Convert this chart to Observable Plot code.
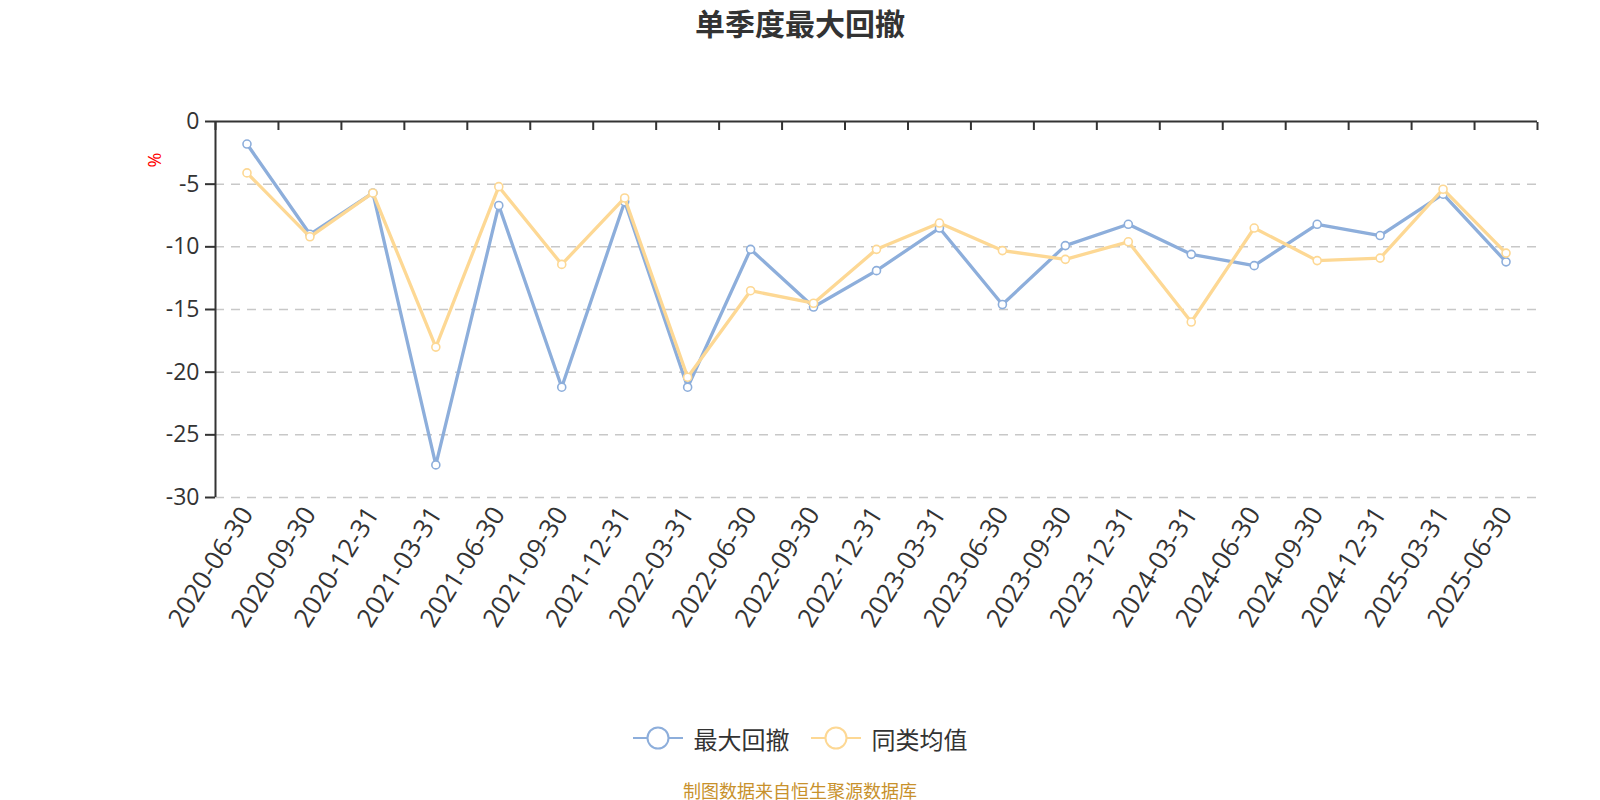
<!DOCTYPE html>
<html>
<head>
<meta charset="utf-8">
<script src="https://cdn.jsdelivr.net/npm/d3@7"></script>
<script src="https://cdn.jsdelivr.net/npm/@observablehq/plot@0.6"></script>
<style>
  body { margin: 0; width: 1600px; height: 800px; background: #fff; position: relative; overflow: hidden;
         font-family: "Open Sans", "Noto Sans CJK SC", sans-serif; }
  #title { height: 44px; line-height: 44px; text-align: center; font-size: 30px; font-weight: bold; color: #333;
           font-family: "Noto Sans CJK SC", sans-serif; margin-bottom: 2px; }
  #chart { height: 650px; }
  #legend { position: absolute; left: 0; top: 724px; width: 1600px; height: 28px; display: flex;
            justify-content: center; align-items: center; gap: 21px; font-family: "Noto Sans CJK SC", sans-serif; }
  .item { display: flex; align-items: center; font-size: 24px; color: #333; }
  .item svg { margin-right: 11px; }
  #footer { position: absolute; left: 0; top: 779px; width: 1600px; height: 22px; line-height: 22px; text-align: center;
            font-size: 18px; color: #c8912c; font-family: "Noto Sans CJK SC", sans-serif; }
</style>
</head>
<body>
<div id="title">单季度最大回撤</div>
<div id="chart"></div>
<div id="legend"></div>
<div id="footer">制图数据来自恒生聚源数据库</div>
<script>
const dates = ["2020-06-30","2020-09-30","2020-12-31","2021-03-31","2021-06-30","2021-09-30","2021-12-31",
  "2022-03-31","2022-06-30","2022-09-30","2022-12-31","2023-03-31","2023-06-30","2023-09-30","2023-12-31",
  "2024-03-31","2024-06-30","2024-09-30","2024-12-31","2025-03-31","2025-06-30"];
const maxDrawdown = [-1.8,-9.0,-5.7,-27.4,-6.7,-21.2,-6.4,-21.2,-10.2,-14.8,-11.9,-8.5,-14.6,-9.9,-8.2,-10.6,-11.5,-8.2,-9.1,-5.8,-11.2];
const peerAverage = [-4.1,-9.2,-5.7,-18.0,-5.2,-11.4,-6.1,-20.4,-13.5,-14.5,-10.2,-8.1,-10.3,-11.0,-9.6,-16.0,-8.5,-11.1,-10.9,-5.4,-10.5];
const seriesNames = ["最大回撤", "同类均值"];
const yTicks = [0, -5, -10, -15, -20, -25, -30];
const yUnit = "%";

const blue = "#8daedb";
const yellow = "#fdd894";

const rowsBlue = dates.map((d, i) => ({i: i + 0.5, date: d, v: maxDrawdown[i]}));
const rowsYellow = dates.map((d, i) => ({i: i + 0.5, date: d, v: peerAverage[i]}));
const centers = d3.range(dates.length).map(i => i + 0.5);
const bounds = d3.range(dates.length + 1);

const chart = Plot.plot({
  width: 1600,
  height: 650,
  marginLeft: 215,
  marginRight: 63,
  marginTop: 75,
  marginBottom: 199,
  style: {background: "#fff", color: "#333", fontFamily: "'Open Sans', 'Noto Sans CJK SC', sans-serif"},
  x: {domain: [0, dates.length]},
  y: {domain: [-30, 0]},
  marks: [
    Plot.gridY({ticks: yTicks.filter(t => t !== 0), stroke: "#c8c8c8", strokeOpacity: 1, strokeWidth: 1.5, strokeDasharray: "9,7"}),
    Plot.axisY({ticks: yTicks, tickFormat: d => String(d), tickSize: 10, tickPadding: 6, fontSize: 23, strokeWidth: 2, label: null}),
    Plot.axisX({anchor: "top", ticks: bounds, tickSize: 8, tickFormat: () => "", dy: 8, strokeWidth: 2, label: null}),
    Plot.axisX({anchor: "bottom", ticks: centers, tickFormat: t => dates[Math.floor(t)], tickRotate: -58,
                tickSize: 0, tickPadding: 12, fontSize: 26, label: null}),
    Plot.ruleY([0], {stroke: "#333", strokeWidth: 2}),
    Plot.ruleX([0], {y1: -30, y2: 0, stroke: "#333", strokeWidth: 2}),
    Plot.text([yUnit], {frameAnchor: "top-left", dx: -67, dy: 46, rotate: -90, fill: "red", fontSize: 18}),
    Plot.line(rowsBlue, {x: "i", y: "v", stroke: blue, strokeWidth: 3.3}),
    Plot.dot(rowsBlue, {x: "i", y: "v", r: 4, fill: "#fff", stroke: blue, strokeWidth: 1.6}),
    Plot.line(rowsYellow, {x: "i", y: "v", stroke: yellow, strokeWidth: 3.3}),
    Plot.dot(rowsYellow, {x: "i", y: "v", r: 4, fill: "#fff", stroke: yellow, strokeWidth: 1.6})
  ]
});
document.getElementById("chart").appendChild(chart);

const legend = document.getElementById("legend");
[[seriesNames[0], blue], [seriesNames[1], yellow]].forEach(([name, color]) => {
  const item = document.createElement("div");
  item.className = "item";
  item.innerHTML = `<svg width="50" height="28"><line x1="0" x2="50" y1="14" y2="14" stroke="${color}" stroke-width="2"/>` +
    `<circle cx="25" cy="14" r="10.5" fill="#fff" stroke="${color}" stroke-width="2"/></svg><span>${name}</span>`;
  legend.appendChild(item);
});
</script>
</body>
</html>
